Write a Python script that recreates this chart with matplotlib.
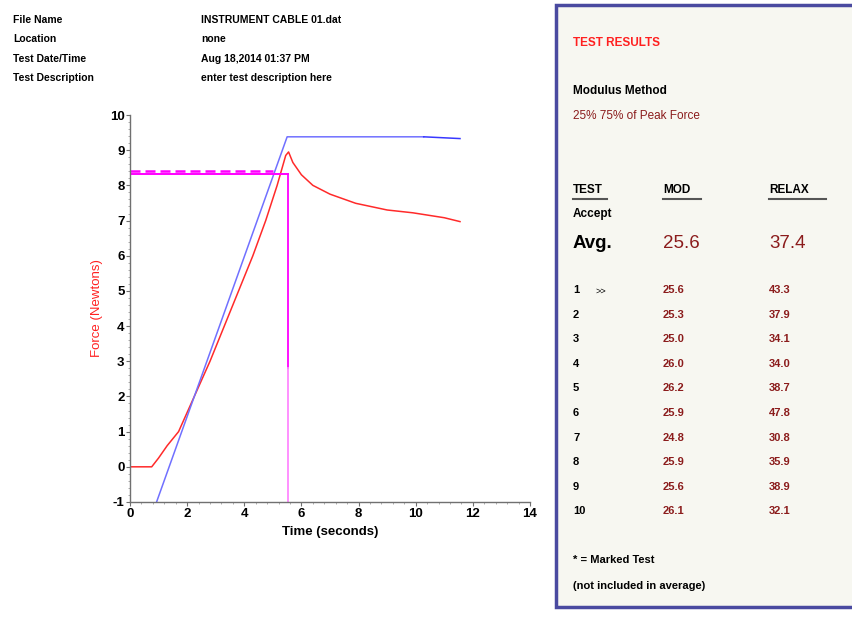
import matplotlib
matplotlib.use("Agg")
import matplotlib.pyplot as plt
from matplotlib.patches import Rectangle
from matplotlib.lines import Line2D
from matplotlib.ticker import MultipleLocator

plt.rcParams['font.family'] = ['Liberation Sans', 'DejaVu Sans']
plt.rcParams['axes.unicode_minus'] = False

# header info
header_labels = ["File Name", "Location", "Test Date/Time", "Test Description"]
header_values = ["INSTRUMENT CABLE 01.dat", "none", "Aug 18,2014 01:37 PM",
                 "enter test description here"]

# force curve (red)
force_t = [0, 0.76, 1.0, 1.3, 1.7, 2.25, 2.8, 3.3, 3.8, 4.3, 4.75, 5.15, 5.45, 5.55,
           5.7, 6.0, 6.4, 7.0, 7.9, 9.0, 9.9, 11.0, 11.55]
force_y = [0, 0, 0.25, 0.6, 1.0, 2.0, 3.0, 4.0, 5.0, 6.0, 7.0, 8.0, 8.85, 8.95,
           8.65, 8.3, 8.0, 7.75, 7.49, 7.3, 7.22, 7.08, 6.97]

# modulus line (blue)
mod_t = [0.93, 5.5, 10.28]
mod_y = [-1, 9.38, 9.38]
mod2_t = [10.28, 11.55]
mod2_y = [9.38, 9.33]

# peak markers (magenta)
peak_t = 5.54
peak_level_top = 8.42
peak_level = 8.32

# results table
tests = ["1", "2", "3", "4", "5", "6", "7", "8", "9", "10"]
mod_vals = ["25.6", "25.3", "25.0", "26.0", "26.2", "25.9", "24.8", "25.9", "25.6", "26.1"]
relax_vals = ["43.3", "37.9", "34.1", "34.0", "38.7", "47.8", "30.8", "35.9", "38.9", "32.1"]
avg_mod = "25.6"
avg_relax = "37.4"

W, H = 852, 618
fig = plt.figure(figsize=(W / 100, H / 100), dpi=100)

def fx(px):
    return px / W

def fy(py):
    return 1 - py / H

# header block
for i, (lab, val) in enumerate(zip(header_labels, header_values)):
    fig.text(fx(13), fy(20 + i * 19.3), lab, fontsize=7.5, fontweight='bold',
             va='center', ha='left')
    fig.text(fx(201), fy(20 + i * 19.3), val, fontsize=7.5, fontweight='bold',
             va='center', ha='left')

# chart
ax = fig.add_axes([fx(130), fy(502), 400 / W, 387 / H])
ax.plot(force_t, force_y, color='#ff2a2a', lw=1.1)
ax.plot(mod_t, mod_y, color='#7070ff', lw=1.1)
ax.plot(mod2_t, mod2_y, color='#3838ff', lw=1.1)
ax.plot([0, 5.0], [peak_level_top, peak_level_top], color='#ff00ff', lw=1.8,
        dashes=(4, 2))
ax.plot([0, peak_t], [peak_level, peak_level], color='#ff00ff', lw=1.4)
ax.plot([peak_t, peak_t], [peak_level, 2.8], color='#ff00ff', lw=1.3)
ax.plot([peak_t, peak_t], [2.8, -1], color='#ff88ff', lw=1.3)

ax.set_xlim(0, 14)
ax.set_ylim(-1, 10)
ax.xaxis.set_major_locator(MultipleLocator(2))
ax.xaxis.set_minor_locator(MultipleLocator(0.4))
ax.yaxis.set_major_locator(MultipleLocator(1))
ax.yaxis.set_minor_locator(MultipleLocator(0.2))
ax.spines['top'].set_visible(False)
ax.spines['right'].set_visible(False)
for s in ('left', 'bottom'):
    ax.spines[s].set_color('#707070')
    ax.spines[s].set_linewidth(1.0)
ax.tick_params(which='major', direction='out', length=3, color='#707070', pad=1,
               labelsize=9.5)
ax.tick_params(which='minor', direction='out', length=1.5, color='#a0a0a0')
for lab in ax.get_xticklabels() + ax.get_yticklabels():
    lab.set_fontweight('bold')
ax.set_xlabel("Time (seconds)", fontsize=9.5, fontweight='bold', labelpad=5)
ax.set_ylabel("Force (Newtons)", fontsize=9.5, color='#ff2020', labelpad=5)

# results panel
fig.add_artist(Rectangle((fx(556), fy(607)), fx(852 - 556 + 20), 602 / H,
                         transform=fig.transFigure, facecolor='#f7f7f1',
                         edgecolor='#4a4aa0', lw=2.5, clip_on=False))

dark_red = '#8b1c1c'
c1, c2, c3 = fx(573), fx(663), fx(769)
fig.text(c1, fy(43), "TEST RESULTS", color='#ff2020', fontsize=8.5,
         fontweight='bold', va='center')
fig.text(c1, fy(91), "Modulus Method", color='black', fontsize=8.5,
         fontweight='bold', va='center')
fig.text(c1, fy(116), "25% 75% of Peak Force", color=dark_red, fontsize=8.5,
         va='center')

for cx, txt in ((c1, "TEST"), (c2, "MOD"), (c3, "RELAX")):
    fig.text(cx, fy(190), txt, fontsize=8.5, fontweight='bold', va='center')
fig.add_artist(Line2D([fx(573), fx(607)], [fy(199), fy(199)], color='#555555', lw=1.5))
fig.add_artist(Line2D([fx(663), fx(701)], [fy(199), fy(199)], color='#555555', lw=1.5))
fig.add_artist(Line2D([fx(769), fx(826)], [fy(199), fy(199)], color='#555555', lw=1.5))

fig.text(c1, fy(214), "Accept", fontsize=8.5, fontweight='bold', va='center')
fig.text(c1, fy(244), "Avg.", fontsize=13.5, fontweight='bold', va='center')
fig.text(c2, fy(244), avg_mod, fontsize=13.5, color=dark_red, va='center')
fig.text(c3, fy(244), avg_relax, fontsize=13.5, color=dark_red, va='center')

for i, (tn, m, r) in enumerate(zip(tests, mod_vals, relax_vals)):
    y = fy(290 + i * 24.6)
    fig.text(c1, y, tn, fontsize=8, fontweight='bold', va='center')
    fig.text(c2, y, m, fontsize=8, fontweight='bold', color=dark_red, va='center')
    fig.text(c3, y, r, fontsize=8, fontweight='bold', color=dark_red, va='center')
fig.text(fx(595), fy(291), ">>", fontsize=6.5, va='center')

fig.text(c1, fy(560), "* = Marked Test", fontsize=8, fontweight='bold', va='center')
fig.text(c1, fy(586), "(not included in average)", fontsize=8, fontweight='bold',
         va='center')

fig.savefig("out.png", dpi=100)
